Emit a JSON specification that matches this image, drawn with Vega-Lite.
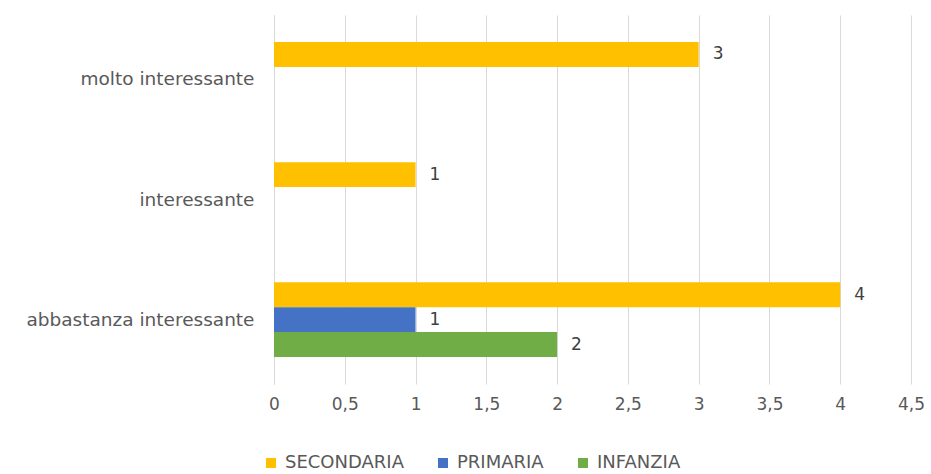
{
  "$schema": "https://vega.github.io/schema/vega-lite/v6.json",
  "autosize": "none",
  "width": 637,
  "height": 369,
  "padding": {"left": 274, "top": 15, "right": 20, "bottom": 90},
  "background": "white",
  "config": {
    "view": {"stroke": null},
    "font": "DejaVu Sans",
    "text": {"font": "DejaVu Sans"}
  },
  "data": {
    "values": [
      {"giudizio": "molto interessante", "scuola": "SECONDARIA", "n": 3},
      {"giudizio": "interessante", "scuola": "SECONDARIA", "n": 1},
      {"giudizio": "abbastanza interessante", "scuola": "SECONDARIA", "n": 4},
      {"giudizio": "abbastanza interessante", "scuola": "PRIMARIA", "n": 1},
      {"giudizio": "abbastanza interessante", "scuola": "INFANZIA", "n": 2}
    ]
  },
  "encoding": {
    "y": {
      "field": "giudizio",
      "type": "nominal",
      "sort": ["molto interessante", "interessante", "abbastanza interessante"],
      "scale": {"paddingInner": 0.378, "paddingOuter": 0.225},
      "axis": {
        "title": null,
        "ticks": false,
        "domain": true,
        "domainColor": "#d9d9d9",
        "labelFontSize": 18.5,
        "labelColor": "#595959",
        "labelPadding": 20,
        "labelLimit": 400,
        "labelFont": "DejaVu Sans"
      }
    },
    "yOffset": {
      "field": "scuola",
      "type": "nominal",
      "sort": ["SECONDARIA", "PRIMARIA", "INFANZIA"],
      "scale": {"domain": ["SECONDARIA", "PRIMARIA", "INFANZIA"], "paddingInner": 0, "paddingOuter": 0}
    }
  },
  "layer": [
    {
      "mark": {"type": "bar"},
      "encoding": {
        "x": {
          "field": "n",
          "type": "quantitative",
          "scale": {"domain": [0, 4.5], "nice": false},
          "axis": {
            "title": null,
            "values": [0, 0.5, 1, 1.5, 2, 2.5, 3, 3.5, 4, 4.5],
            "labelExpr": "replace(format(datum.value, '~g'), '.', ',')",
            "labelFlush": false,
            "grid": true,
            "gridColor": "#d9d9d9",
            "ticks": false,
            "domain": false,
            "labelFontSize": 17,
            "labelColor": "#595959",
            "labelPadding": 12,
            "labelFont": "DejaVu Sans"
          }
        },
        "color": {
          "field": "scuola",
          "type": "nominal",
          "sort": ["SECONDARIA", "PRIMARIA", "INFANZIA"],
          "scale": {
            "domain": ["SECONDARIA", "PRIMARIA", "INFANZIA"],
            "range": ["#FFC000", "#4472C4", "#70AD47"]
          },
          "legend": {
            "title": null,
            "orient": "none",
            "direction": "horizontal",
            "legendX": -12,
            "legendY": 439,
            "symbolType": "square",
            "symbolSize": 100,
            "symbolStrokeWidth": 0,
            "labelFontSize": 18,
            "labelColor": "#595959",
            "labelFont": "DejaVu Sans",
            "labelOffset": 5,
            "columnPadding": 30
          }
        }
      }
    },
    {
      "mark": {"type": "text", "align": "left", "dx": 14, "fontSize": 17, "color": "#404040"},
      "encoding": {
        "x": {"field": "n", "type": "quantitative"},
        "text": {"field": "n", "type": "quantitative"}
      }
    }
  ]
}
